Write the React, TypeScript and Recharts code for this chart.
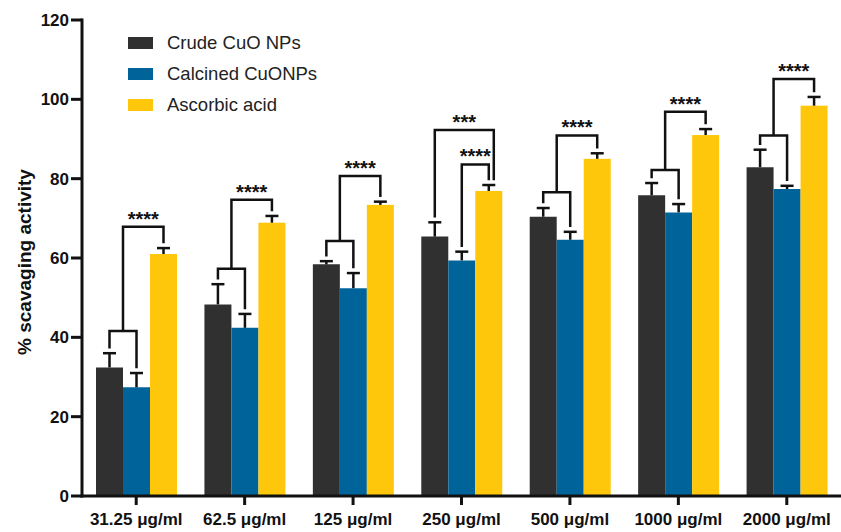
import React from 'react';
import { BarChart, Bar, XAxis, YAxis, ErrorBar } from 'recharts';

// Concentrations tested and the unit shown under each group
const concentrations = ['31.25', '62.5', '125', '250', '500', '1000', '2000'];
const unit = 'μg/ml';

// Mean % scavenging activity and upper error (SD) per concentration
const crude = [32.4, 48.3, 58.4, 65.4, 70.4, 75.8, 82.9];
const crudeErr = [3.6, 5.1, 0.8, 3.6, 2.2, 3.1, 4.4];
const calcined = [27.4, 42.4, 52.4, 59.4, 64.6, 71.5, 77.4];
const calcinedErr = [3.6, 3.5, 3.8, 2.2, 2.0, 2.1, 0.8];
const ascorbic = [61.0, 68.9, 73.4, 76.9, 85.0, 91.0, 98.4];
const ascorbicErr = [1.5, 1.7, 0.8, 1.5, 1.4, 1.5, 2.2];

const yTicks = [0, 20, 40, 60, 80, 100, 120];

const seriesNames = ['Crude CuO NPs', 'Calcined CuONPs', 'Ascorbic acid'];
const seriesColors = ['#303030', '#00649a', '#ffc70b'];

// Significance brackets, heights in % units.
// Crude vs calcined pairing bracket (null where none is drawn)
const pairBracketTop = [41.6, 57.3, 64.3, null, 76.6, 82.2, 90.9];
// Brackets ending on the ascorbic acid bar
const acidBrackets = [
  { at: '31.25', from: 'pair', top: 67.9, stars: '****' },
  { at: '62.5', from: 'pair', top: 74.7, stars: '****' },
  { at: '125', from: 'pair', top: 80.7, stars: '****' },
  { at: '250', from: 'crude', top: 92.3, stars: '***' },
  { at: '250', from: 'calcined', top: 83.6, stars: '****' },
  { at: '500', from: 'pair', top: 90.9, stars: '****' },
  { at: '1000', from: 'pair', top: 96.9, stars: '****' },
  { at: '2000', from: 'pair', top: 105.1, stars: '****' },
];

const data = concentrations.map((conc, i) => ({
  conc,
  crude: crude[i],
  crudeErr: [0, crudeErr[i]],
  calcined: calcined[i],
  calcinedErr: [0, calcinedErr[i]],
  ascorbic: ascorbic[i],
  ascorbicErr: [0, ascorbicErr[i]],
}));

const FONT = '"Liberation Sans", Arial, Helvetica, sans-serif';
const INK = '#111';
const LEG_GAP = 1.2; // % units left between an error cap and a bracket leg
const NESTED_OFFSET = 5; // px shift of the outer bracket's right leg

function AcidBar(props: any) {
  const { x, y, width, height, fill, payload } = props;
  const i = concentrations.indexOf(payload.conc);
  const base = y + height;
  const unitPx = height / ascorbic[i];
  const py = (v: number) => base - v * unitPx;

  const crudeX = x - 2 * width + width / 2;
  const calcX = x - width + width / 2;
  const acidX = x + width / 2;
  const crudeLeg = crude[i] + crudeErr[i] + LEG_GAP;
  const calcLeg = calcined[i] + calcinedErr[i] + LEG_GAP;
  const acidLeg = ascorbic[i] + ascorbicErr[i] + LEG_GAP;

  const paths: string[] = [];
  const labels: React.ReactNode[] = [];
  const pairTop = pairBracketTop[i];
  if (pairTop != null) {
    paths.push(`M${crudeX},${py(crudeLeg)}V${py(pairTop)}H${calcX}V${py(calcLeg)}`);
  }
  acidBrackets
    .filter((b) => b.at === payload.conc)
    .forEach((b, k) => {
      let fromX = (crudeX + calcX) / 2;
      let fromBottom = pairTop ?? crudeLeg;
      if (b.from === 'crude') {
        fromX = crudeX;
        fromBottom = crudeLeg;
      } else if (b.from === 'calcined') {
        fromX = calcX;
        fromBottom = calcLeg;
      }
      const toX = acidX + (b.from === 'crude' ? NESTED_OFFSET : 0);
      paths.push(`M${fromX},${py(fromBottom)}V${py(b.top)}H${toX}V${py(acidLeg)}`);
      labels.push(
        <text
          key={k}
          x={(fromX + toX) / 2}
          y={py(b.top) - 1}
          textAnchor="middle"
          fontFamily={FONT}
          fontWeight="bold"
          fontSize={20}
          fill={INK}
        >
          {b.stars}
        </text>
      );
    });

  return (
    <g>
      <rect x={x} y={y} width={width} height={height} fill={fill} />
      {paths.map((d, k) => (
        <path key={k} d={d} fill="none" stroke={INK} strokeWidth={2.5} />
      ))}
      {labels}
    </g>
  );
}

function ConcTick(props: any) {
  const { x, y, payload } = props;
  return (
    <text
      x={x}
      y={y + 18}
      textAnchor="middle"
      fontFamily={FONT}
      fontWeight="bold"
      fontSize={17}
      fill={INK}
    >
      {`${payload.value} ${unit}`}
    </text>
  );
}

function AxisTitle(props: any) {
  const vb = props.viewBox || { x: 0, y: 20, width: 82, height: 476 };
  const cx = 24;
  const cy = vb.y + vb.height / 2 + 4;
  return (
    <text
      x={cx}
      y={cy}
      transform={`rotate(-90, ${cx}, ${cy})`}
      textAnchor="middle"
      dominantBaseline="central"
      fontFamily={FONT}
      fontWeight="bold"
      fontSize={19}
      fill={INK}
    >
      % scavaging activity
    </text>
  );
}

function LegendBox() {
  return (
    <div
      style={{
        position: 'absolute',
        left: 128,
        top: 27,
        fontFamily: FONT,
        fontSize: 18.5,
        color: '#222',
      }}
    >
      {seriesNames.map((name, k) => (
        <div key={name} style={{ display: 'flex', alignItems: 'center', height: 31 }}>
          <span
            style={{
              display: 'inline-block',
              width: 25,
              height: 12,
              background: seriesColors[k],
              marginRight: 14,
            }}
          />
          <span>{name}</span>
        </div>
      ))}
    </div>
  );
}

export default function App() {
  return (
    <div style={{ position: 'absolute', left: 0, top: 0, width: 841, height: 532, background: '#fff' }}>
      <style>{`.recharts-errorBar line:nth-of-type(3){display:none}`}</style>
      <BarChart
        width={841}
        height={532}
        data={data}
        margin={{ top: 20, right: 0, bottom: 0, left: 0 }}
        barGap={0}
        barSize={27}
      >
        <XAxis
          dataKey="conc"
          height={36}
          interval={0}
          tickSize={9}
          axisLine={{ stroke: INK, strokeWidth: 3, strokeLinecap: 'square' }}
          tickLine={{ stroke: INK, strokeWidth: 3 }}
          tick={<ConcTick />}
        />
        <YAxis
          width={82}
          domain={[0, 120]}
          ticks={yTicks}
          tickSize={11}
          axisLine={{ stroke: INK, strokeWidth: 3, strokeLinecap: 'square' }}
          tickLine={{ stroke: INK, strokeWidth: 3 }}
          tick={{ fontFamily: FONT, fontWeight: 'bold', fontSize: 17, fill: INK }}
          label={<AxisTitle />}
        />
        <Bar dataKey="crude" name={seriesNames[0]} fill={seriesColors[0]} isAnimationActive={false}>
          <ErrorBar dataKey="crudeErr" width={6.5} stroke={INK} strokeWidth={2.5} isAnimationActive={false} />
        </Bar>
        <Bar dataKey="calcined" name={seriesNames[1]} fill={seriesColors[1]} isAnimationActive={false}>
          <ErrorBar dataKey="calcinedErr" width={6.5} stroke={INK} strokeWidth={2.5} isAnimationActive={false} />
        </Bar>
        <Bar
          dataKey="ascorbic"
          name={seriesNames[2]}
          fill={seriesColors[2]}
          isAnimationActive={false}
          shape={<AcidBar />}
        >
          <ErrorBar dataKey="ascorbicErr" width={6.5} stroke={INK} strokeWidth={2.5} isAnimationActive={false} />
        </Bar>
      </BarChart>
      <LegendBox />
    </div>
  );
}
